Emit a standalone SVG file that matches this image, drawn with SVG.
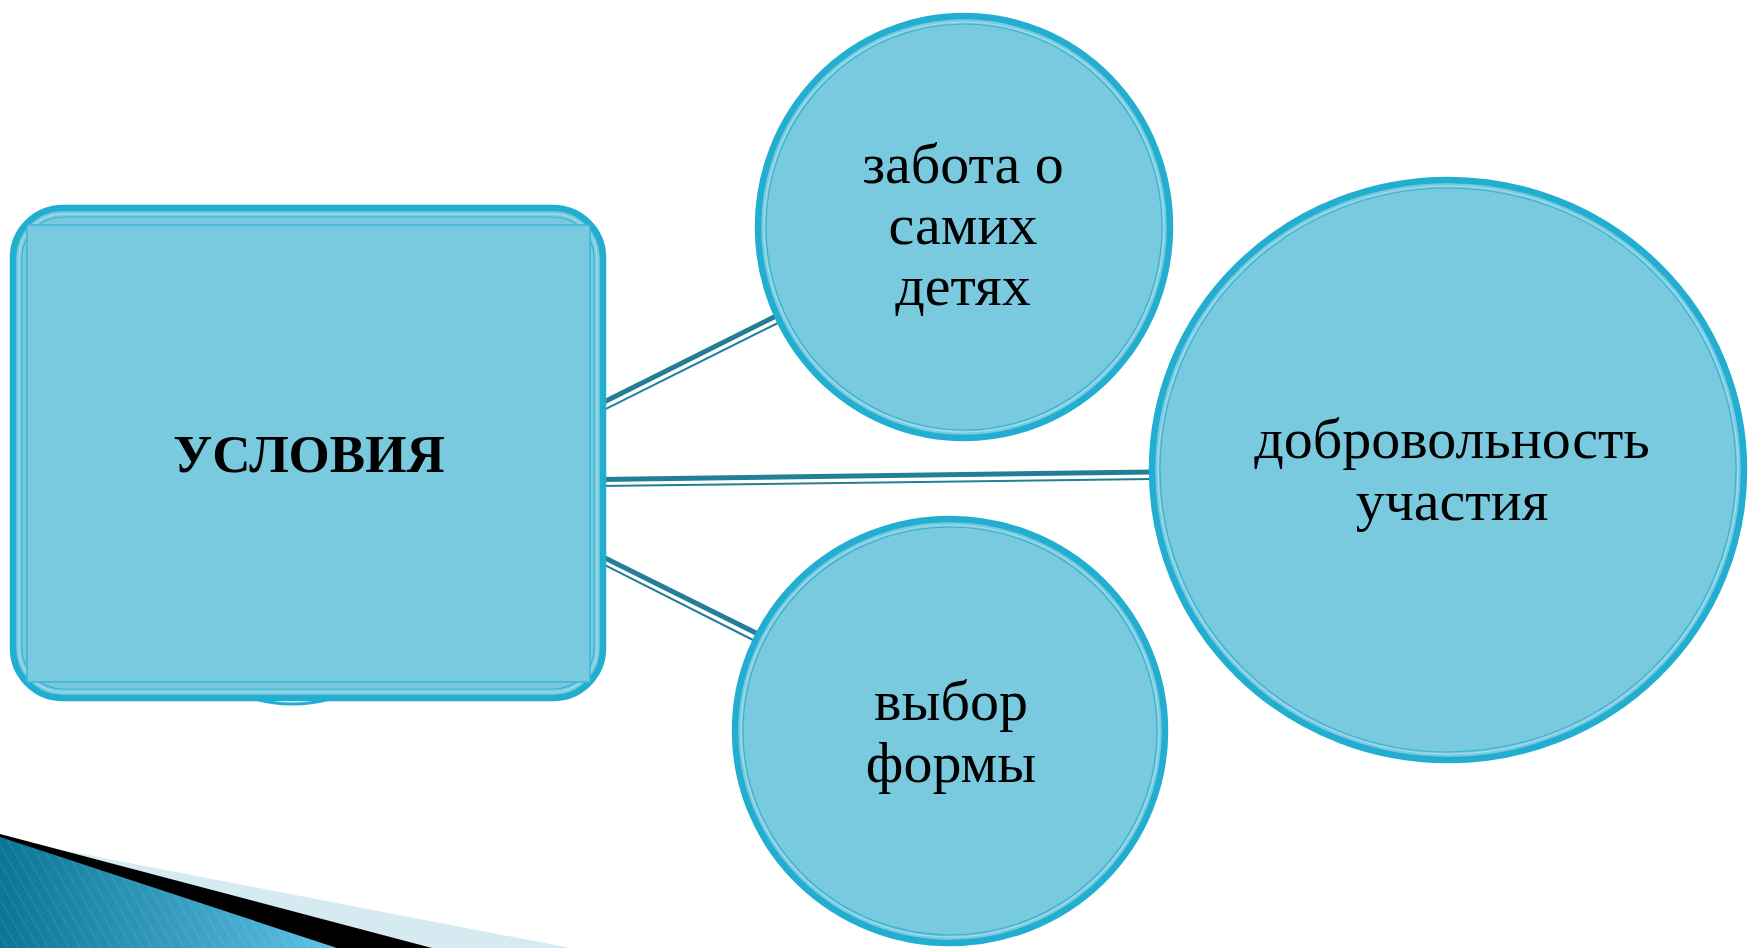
<svg xmlns="http://www.w3.org/2000/svg" width="1748" height="948" viewBox="0 0 1748 948">
<style>
.fill{fill:#7ACADF}
.outer{stroke:#21AED0;stroke-width:6.5;}
.inl{fill:none;stroke:#A6DCEA;stroke-width:1.2}
.ind{fill:none;stroke:#36B4D3;stroke-width:1.2}
.con{stroke:#237F97;fill:none;stroke-linecap:butt}
.thick{stroke-width:5}
.thin{stroke-width:2}
.lbl{font-family:"Liberation Serif","Times New Roman",serif;font-size:58px;fill:#000;text-anchor:middle}
.bold{font-weight:bold;font-size:53px}
</style>
<defs>
<linearGradient id="bg" x1="0" y1="0" x2="1" y2="0">
<stop offset="0" stop-color="#0B7595"/>
<stop offset="1" stop-color="#5EC2E6"/>
</linearGradient>
<pattern id="stripes" width="9" height="9" patternUnits="userSpaceOnUse" patternTransform="rotate(-30)">
<line x1="0" y1="0" x2="0" y2="9" stroke="#ffffff" stroke-opacity="0.14" stroke-width="1.5"/>
</pattern>
</defs>
<rect width="1748" height="948" fill="#fff"/>
<g id="decoration">
<polygon points="0,838 570,948 0,948" fill="#D6EAF2"/>
<polygon points="0,834 432,948 0,948" fill="#000"/>
<polygon points="0,837 337,948 0,948" fill="url(#bg)"/>
<polygon points="0,837 337,948 0,948" fill="url(#stripes)"/>
</g>
<g id="connectors">
<line class="con thick" x1="600" y1="404" x2="778" y2="315"/>
<line class="con thin" x1="600" y1="411.8" x2="781" y2="321.5"/>
<line class="con thick" x1="600" y1="479.5" x2="1152" y2="472"/>
<line class="con thin" x1="600" y1="486" x2="1152" y2="479"/>
<line class="con thick" x1="600" y1="555.6" x2="760" y2="635"/>
<line class="con thin" x1="600" y1="562.6" x2="756" y2="641.5"/>
</g>
<g id="node-usloviya">
<path d="M255,699 Q292,709 330,699" fill="none" stroke="#21AED0" stroke-width="3"/>
<rect class="fill outer" x="13" y="208" width="590" height="490" rx="50" ry="50"/>
<rect class="inl" x="19" y="214" width="578" height="478" rx="44" ry="44"/>
<rect class="ind" x="22" y="217" width="572" height="472" rx="41" ry="41"/>
<rect x="27" y="225" width="563" height="457" fill="#7ACADF" stroke="#3CB7D5" stroke-width="1.6"/>
<text class="lbl bold" x="309" y="472">УСЛОВИЯ</text>
</g>
<g id="node-zabota">
<ellipse class="fill outer" cx="964" cy="227" rx="206" ry="211"/>
<ellipse class="inl" cx="964" cy="227" rx="200" ry="205"/>
<ellipse class="ind" cx="964" cy="227" rx="198" ry="203"/>
<text class="lbl" x="963" y="183">забота о</text>
<text class="lbl" x="963" y="244">самих</text>
<text class="lbl" x="963" y="305">детях</text>
</g>
<g id="node-dobrovolnost">
<ellipse class="fill outer" cx="1448" cy="470" rx="296" ry="290"/>
<ellipse class="inl" cx="1448" cy="470" rx="290" ry="284"/>
<ellipse class="ind" cx="1448" cy="470" rx="288" ry="282"/>
<text class="lbl" x="1452" y="458">добровольность</text>
<text class="lbl" x="1452" y="520">участия</text>
</g>
<g id="node-vybor">
<ellipse class="fill outer" cx="950" cy="731" rx="215" ry="212"/>
<ellipse class="inl" cx="950" cy="731" rx="209" ry="206"/>
<ellipse class="ind" cx="950" cy="731" rx="207" ry="204"/>
<text class="lbl" x="951" y="720">выбор</text>
<text class="lbl" x="951" y="782">формы</text>
</g>
</svg>
